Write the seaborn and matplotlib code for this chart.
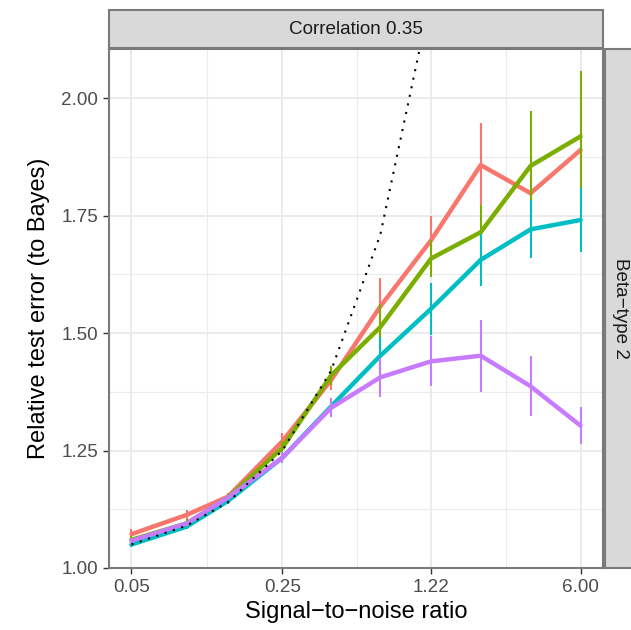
import numpy as np
import pandas as pd
import matplotlib
matplotlib.use("Agg")
import matplotlib.pyplot as plt
import seaborn as sns
from matplotlib.patches import Rectangle
from matplotlib.ticker import FixedLocator, NullFormatter

# ---------------- data ----------------
snr = [0.05, 0.09, 0.14, 0.25, 0.42, 0.71, 1.22, 2.07, 3.52, 6.00]
methods = ["Best subset", "Forward stepwise", "Lasso", "Relaxed lasso"]

best_subset = [1.072, 1.113, 1.152, 1.270, 1.400, 1.557, 1.698, 1.858, 1.798, 1.890]
forward_stepwise = [1.060, 1.095, 1.150, 1.256, 1.410, 1.513, 1.659, 1.715, 1.856, 1.919]
lasso = [1.050, 1.088, 1.143, 1.235, 1.344, 1.452, 1.552, 1.656, 1.721, 1.741]
relaxed_lasso = [1.058, 1.095, 1.150, 1.235, 1.341, 1.406, 1.440, 1.452, 1.387, 1.303]

best_subset_se = [0.010, 0.010, 0.008, 0.018, 0.020, 0.061, 0.052, 0.090, 0.060, 0.080]
forward_stepwise_se = [0.008, 0.010, 0.008, 0.015, 0.020, 0.050, 0.040, 0.058, 0.116, 0.140]
lasso_se = [0.006, 0.006, 0.006, 0.010, 0.015, 0.040, 0.055, 0.055, 0.062, 0.068]
relaxed_lasso_se = [0.006, 0.006, 0.006, 0.012, 0.020, 0.041, 0.053, 0.077, 0.064, 0.040]

null_model = [1.05, 1.09, 1.14, 1.25, 1.42, 1.71, 2.22, 3.07, 4.52, 7.00]

x_ticks = [0.05, 0.25, 1.22, 6.00]
x_tick_labels = ["0.05", "0.25", "1.22", "6.00"]
y_ticks = [1.00, 1.25, 1.50, 1.75, 2.00]
y_tick_labels = ["1.00", "1.25", "1.50", "1.75", "2.00"]
palette = ["#F8766D", "#7CAE00", "#00BFC4", "#C77CFF"]

strip_top = "Correlation 0.35"
strip_right = "Beta\u2212type 2"
x_title = "Signal\u2212to\u2212noise ratio"
y_title = "Relative test error (to Bayes)"

values = [best_subset, forward_stepwise, lasso, relaxed_lasso]
ses = [best_subset_se, forward_stepwise_se, lasso_se, relaxed_lasso_se]

df = pd.DataFrame({
    "snr": np.tile(snr, len(methods)),
    "err": np.concatenate(values),
    "se": np.concatenate(ses),
    "method": np.repeat(methods, len(snr)),
})

# ---------------- style ----------------
sns.set_style("white")
plt.rcParams["font.family"] = ["Liberation Sans", "DejaVu Sans"]

W, H = 631, 630
fig = plt.figure(figsize=(W / 100, H / 100), dpi=100)
pl, pr, pt, pb = 109, 603, 49, 568
ax = fig.add_axes([pl / W, 1 - pb / H, (pr - pl) / W, (pb - pt) / H])

border_col = "#7a7a7a"
grid_col = "#EBEBEB"

ax.set_xscale("log")
rng = np.log(snr[-1] / snr[0])
ax.set_xlim(snr[0] * np.exp(-0.05 * rng), snr[-1] * np.exp(0.05 * rng))
ax.set_ylim(1.0, 2.105)

# grid
ax.xaxis.set_major_locator(FixedLocator(x_ticks))
ax.set_xticklabels(x_tick_labels)
ax.xaxis.set_minor_locator(FixedLocator([np.sqrt(a * b) for a, b in zip(x_ticks[:-1], x_ticks[1:])]))
ax.xaxis.set_minor_formatter(NullFormatter())
ax.yaxis.set_major_locator(FixedLocator(y_ticks))
ax.set_yticklabels(y_tick_labels)
ax.yaxis.set_minor_locator(FixedLocator([1.125, 1.375, 1.625, 1.875]))
ax.grid(True, which="major", color=grid_col, lw=1.4)
ax.grid(True, which="minor", color=grid_col, lw=0.8)
ax.set_axisbelow(True)

sns.lineplot(data=df, x="snr", y="err", hue="method", hue_order=methods,
             palette=palette, linewidth=3.2, legend=False, ax=ax,
             estimator=None, sort=False)
for m, c in zip(methods, palette):
    d = df[df.method == m]
    ax.errorbar(d.snr, d.err, yerr=d.se, fmt="none", ecolor=c, elinewidth=1.5,
                capsize=0, zorder=3)

ax.plot(snr, null_model, color="black", lw=1.5, linestyle=(0, (1, 3.2)), zorder=4)

for s in ax.spines.values():
    s.set_color(border_col)
    s.set_linewidth(1.5)
    s.set_visible(True)

ax.tick_params(axis="both", which="major", length=4.3, width=1.0, color="#333333",
               labelcolor="#4D4D4D", labelsize=13.6, pad=3.4, bottom=True, left=True)
ax.tick_params(axis="both", which="minor", length=0)

ax.set_xlabel(x_title, fontsize=17, color="black", labelpad=4)
ax.set_ylabel(y_title, fontsize=17, color="black", labelpad=8)

# strips
fig.add_artist(Rectangle((pl / W, 1 - 48 / H), (pr - pl) / W, 38 / H,
                         transform=fig.transFigure, facecolor="#D9D9D9",
                         edgecolor=border_col, lw=1.5))
fig.text((pl + pr) / 2 / W, 1 - 29 / H, strip_top, ha="center", va="center",
         fontsize=13.6, color="#1A1A1A")
fig.add_artist(Rectangle((605 / W, 1 - pb / H), 40 / W, (pb - pt) / H,
                         transform=fig.transFigure, facecolor="#D9D9D9",
                         edgecolor=border_col, lw=1.5, clip_on=False))
fig.text(621 / W, 1 - (pt + pb) / 2 / H, strip_right, ha="center", va="center",
         rotation=-90, fontsize=13.6, color="#1A1A1A")

fig.savefig("out.png", dpi=100)
